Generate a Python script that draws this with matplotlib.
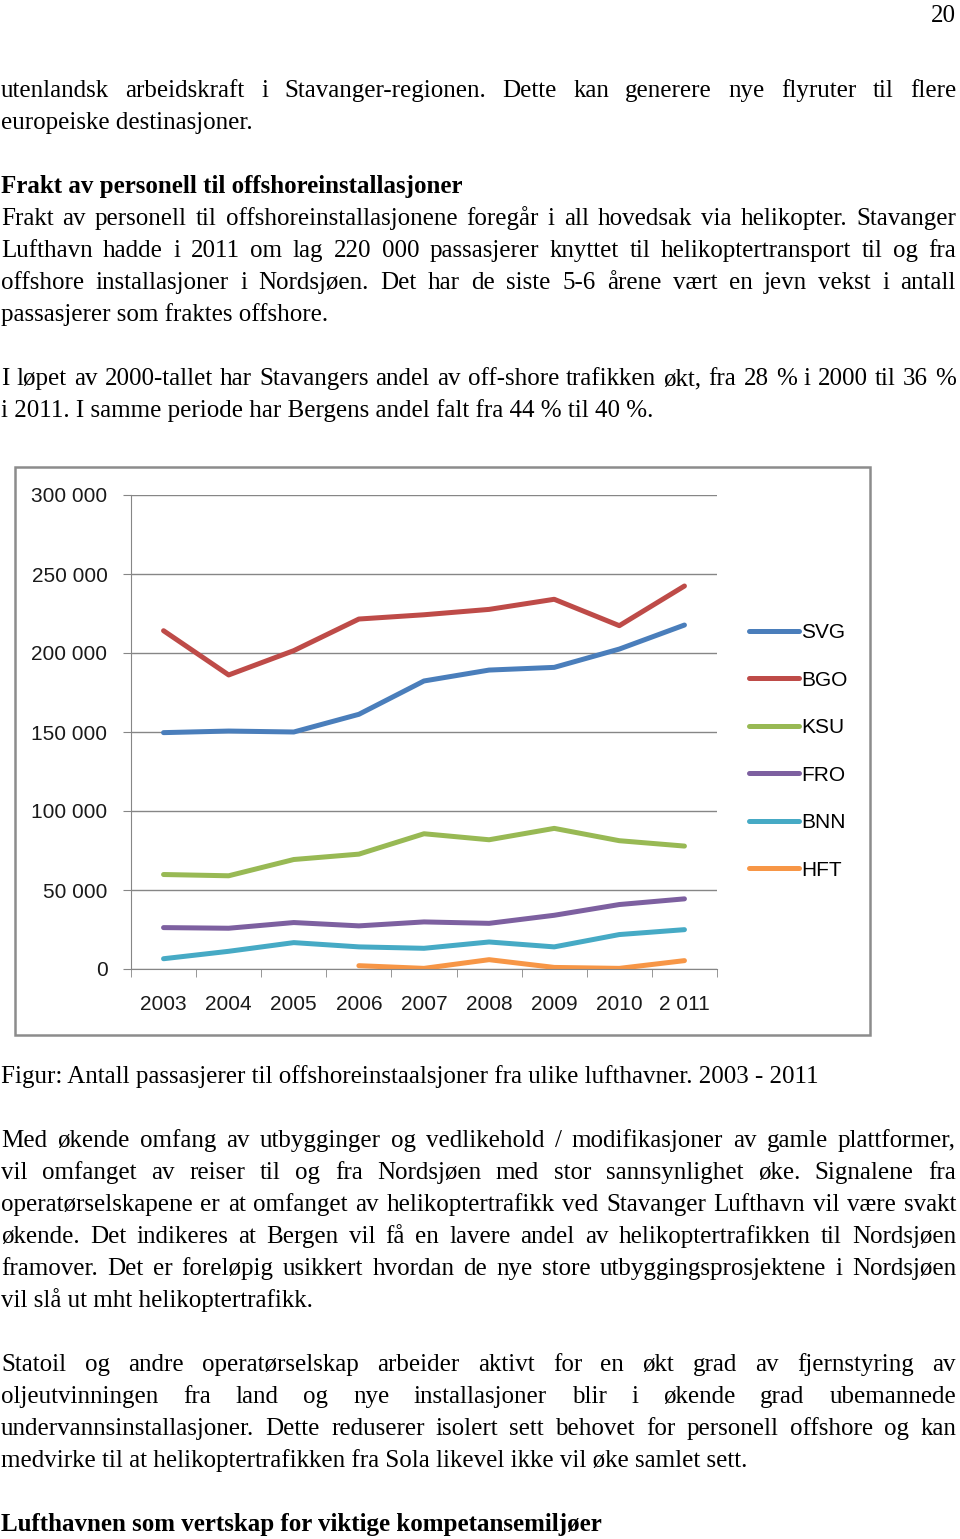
import numpy as np
import matplotlib
matplotlib.use("Agg")
import matplotlib.pyplot as plt
from matplotlib.lines import Line2D
from matplotlib.patches import Rectangle
from matplotlib.ticker import FuncFormatter

# page size in pixels (dpi 100)
W, H = 960, 1539

# chart data (passengers per airport)
years = ["2003", "2004", "2005", "2006", "2007", "2008", "2009", "2010", "2 011"]
svg = [149600, 150600, 150000, 161200, 182300, 189200, 190900, 202500, 217700]
bgo = [214100, 186100, 201500, 221500, 224200, 227600, 234000, 217300, 242400]
ksu = [59800, 59000, 69300, 72700, 85600, 81800, 89000, 81200, 77800]
fro = [26200, 25800, 29400, 27300, 29800, 28900, 34000, 40800, 44400]
bnn = [6500, 11200, 16700, 14000, 13100, 17100, 14000, 21800, 24900]
hft = [np.nan, np.nan, np.nan, 2100, 400, 5900, 1000, 400, 5300]
names = ["SVG", "BGO", "KSU", "FRO", "BNN", "HFT"]
colors = ["#4A7EBB", "#BE4B48", "#98B954", "#7D60A0", "#46AAC5", "#F79646"]

# page text: (text, baseline y in px, style)  j=justified, l=left, b=bold
lines = [
    ("utenlandsk arbeidskraft i Stavanger-regionen. Dette kan generere nye flyruter til flere", 97, "j"),
    ("europeiske destinasjoner.", 129, "l"),
    ("Frakt av personell til offshoreinstallasjoner", 193, "b"),
    ("Frakt av personell til offshoreinstallasjonene foregår i all hovedsak via helikopter. Stavanger", 225, "j"),
    ("Lufthavn hadde i 2011 om lag 220 000 passasjerer knyttet til helikoptertransport til og fra", 257, "j"),
    ("offshore installasjoner i Nordsjøen. Det har de siste 5-6 årene vært en jevn vekst i antall", 289, "j"),
    ("passasjerer som fraktes offshore.", 321, "l"),
    ("I løpet av 2000-tallet har Stavangers andel av off-shore trafikken økt, fra 28 % i 2000 til 36 %", 385, "j"),
    ("i 2011. I samme periode har Bergens andel falt fra 44 % til 40 %.", 417, "l"),
    ("Figur: Antall passasjerer til offshoreinstaalsjoner fra ulike lufthavner. 2003 - 2011", 1083, "l"),
    ("Med økende omfang av utbygginger og vedlikehold / modifikasjoner av gamle plattformer,", 1147, "j"),
    ("vil omfanget av reiser til og fra Nordsjøen med stor sannsynlighet øke. Signalene fra", 1179, "j"),
    ("operatørselskapene er at omfanget av helikoptertrafikk ved Stavanger Lufthavn vil være svakt", 1211, "j"),
    ("økende. Det indikeres at Bergen vil få en lavere andel av helikoptertrafikken til Nordsjøen", 1243, "j"),
    ("framover. Det er foreløpig usikkert hvordan de nye store utbyggingsprosjektene i Nordsjøen", 1275, "j"),
    ("vil slå ut mht helikoptertrafikk.", 1307, "l"),
    ("Statoil og andre operatørselskap arbeider aktivt for en økt grad av fjernstyring av", 1371, "j"),
    ("oljeutvinningen fra land og nye installasjoner blir i økende grad ubemannede", 1403, "j"),
    ("undervannsinstallasjoner. Dette reduserer isolert sett behovet for personell offshore og kan", 1435, "j"),
    ("medvirke til at helikoptertrafikken fra Sola likevel ikke vil øke samlet sett.", 1467, "l"),
    ("Lufthavnen som vertskap for viktige kompetansemiljøer", 1531, "b"),
]

serif = "Liberation Serif"
sans = ["Liberation Sans", "DejaVu Sans"]
body_size = 18
left_px, right_px = 1, 956


def fx(px):
    return px / W


def fy(py):
    return 1 - py / H


fig = plt.figure(figsize=(W / 100, H / 100), dpi=100)
fig.patch.set_facecolor("white")
renderer = fig.canvas.get_renderer()

# page number
fig.text(fx(956), fy(22), "20", family=serif, fontsize=body_size, ha="right", va="baseline")

for txt, base, style in lines:
    weight = "bold" if style == "b" else "normal"
    if style != "j":
        fig.text(fx(left_px), fy(base), txt, family=serif, fontsize=body_size,
                 weight=weight, ha="left", va="baseline")
        continue
    # justified line: place words one by one, spreading the leftover space
    words = txt.split(" ")
    objs = [fig.text(0, fy(base), w, family=serif, fontsize=body_size,
                     ha="left", va="baseline") for w in words]
    widths = [o.get_window_extent(renderer).width for o in objs]
    gap = (right_px - left_px - sum(widths)) / (len(words) - 1)
    x = left_px
    for o, w in zip(objs, widths):
        o.set_x(fx(x))
        x += w + gap

# chart frame
fig.add_artist(Rectangle((fx(15), fy(1035)), fx(870) - fx(15), fy(467) - fy(1035),
                         transform=fig.transFigure, fill=False, edgecolor="#8C8C8C", lw=1.8))

ax = fig.add_axes([fx(131), fy(969), fx(717) - fx(131), fy(495) - fy(969)])
x = np.arange(len(years))
data = [svg, bgo, ksu, fro, bnn, hft]
for vals, c in zip(data, colors):
    ax.plot(x, vals, color=c, lw=3.6, solid_joinstyle="round", solid_capstyle="round")

ax.set_xlim(-0.5, len(years) - 0.5)
ax.set_ylim(0, 300000)
ax.set_yticks(np.arange(0, 300001, 50000))
ax.yaxis.set_major_formatter(FuncFormatter(lambda v, p: f"{int(v):,}".replace(",", " ")))
ax.set_xticks(x)
ax.set_xticklabels(years)
ax.set_xticks(np.arange(-0.5, len(years)), minor=True)
ax.tick_params(axis="x", which="major", length=0, pad=19, labelsize=15)
ax.tick_params(axis="x", which="minor", length=6, color="#868686", direction="out")
ax.tick_params(axis="y", length=6, color="#868686", direction="out", pad=11, labelsize=15)
for lab in ax.get_xticklabels() + ax.get_yticklabels():
    lab.set_family(sans)
    lab.set_color("#1A1A1A")
ax.yaxis.grid(True, color="#868686", lw=1)
ax.set_axisbelow(True)
for s in ["top", "right"]:
    ax.spines[s].set_visible(False)
for s in ["left", "bottom"]:
    ax.spines[s].set_color("#868686")

handles = [Line2D([], [], color=c, lw=3.6, solid_capstyle="round") for c in colors]
ax.legend(handles, names, loc="upper left", bbox_to_anchor=(fx(749), fy(623)),
          bbox_transform=fig.transFigure, frameon=False, handlelength=2.4,
          handletextpad=0.1, labelspacing=1.37, borderpad=0, borderaxespad=0,
          prop={"family": sans, "size": 15})

fig.savefig("out.png", dpi=100)
